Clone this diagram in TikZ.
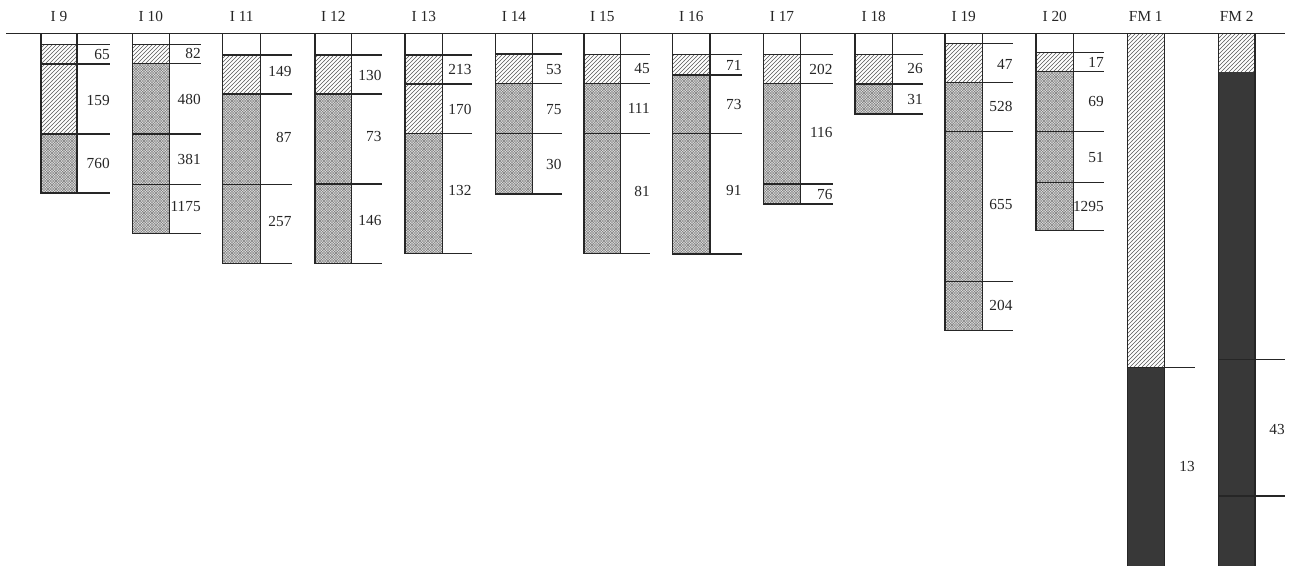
\documentclass[tikz,border=0pt]{standalone}
\usepackage{fontspec}
\setmainfont{Liberation Serif}
\usetikzlibrary{patterns}
\pgfdeclarepatternformonly{finecross}{\pgfqpoint{-0.5pt}{-0.5pt}}{\pgfqpoint{2.5pt}{2.5pt}}{\pgfqpoint{2pt}{2pt}}{%
  \pgfsetlinewidth{0.3pt}%
  \pgfpathmoveto{\pgfqpoint{-0.1pt}{-0.1pt}}\pgfpathlineto{\pgfqpoint{2.1pt}{2.1pt}}%
  \pgfpathmoveto{\pgfqpoint{-0.1pt}{2.1pt}}\pgfpathlineto{\pgfqpoint{2.1pt}{-0.1pt}}%
  \pgfusepath{stroke}}
\tikzset{
  rule/.style={line width=1.1pt, black!85},
  hatchfill/.style={pattern=north east lines, pattern color=black!65},
  crossfill/.style={fill=black!10, postaction={pattern=finecross, pattern color=black!50}},
  darkfill/.style={fill=black!78},
  num/.style={anchor=east, inner sep=0pt, font=\fontsize{11.5}{13}\selectfont, text=black!85},
  ttl/.style={inner sep=0pt, font=\fontsize{11.5}{13}\selectfont, text=black!85}
}
\newcommand\hseg[4]{\fill[hatchfill] (#1,#3) rectangle (#2,#4);}
\newcommand\cseg[4]{\fill[crossfill] (#1,#3) rectangle (#2,#4);}
\newcommand\tk[3]{\draw[rule] (#1,#3) -- (#2,#3);}
% frame: L D T bottom
\newcommand\frm[4]{\draw[rule] (#1,33.5) -- (#1,#4) -- (#3,#4); \draw[rule] (#2,33.5) -- (#2,#4);}
\begin{document}
\begin{tikzpicture}[x=0.75pt,y=-0.75pt]
\useasboundingbox (0,0) rectangle (1299,565);
\fill[white] (0,0) rectangle (1299,565);

% ---------- I 9
\hseg{41}{77}{44.3}{64}\hseg{41}{77}{64}{134}\cseg{41}{77}{134}{193}
\frm{41}{77}{110}{193}
\tk{41}{110}{44.3}\tk{41}{110}{64}\tk{41}{110}{134}
\node[ttl] (t9) at (59,16.7) {I 9};
\node[num] (a9) at (110,54) {65};
\node[num] (b9) at (110,100) {159};
\node[num] (c9) at (110,163) {760};

% ---------- I 10
\hseg{132.3}{169.3}{44.3}{63.3}\cseg{132.3}{169.3}{63.3}{134}\cseg{132.3}{169.3}{134}{184.3}\cseg{132.3}{169.3}{184.3}{233.3}
\frm{132.3}{169.3}{201}{233.3}
\tk{132.3}{201}{44.3}\tk{132.3}{201}{63.3}\tk{132.3}{201}{134}\tk{132.3}{201}{184.3}
\node[ttl] (t10) at (150.8,16.7) {I 10};
\node[num] (a10) at (201,53.3) {82};
\node[num] (b10) at (201,99) {480};
\node[num] (c10) at (201,159) {381};
\node[num] (d10) at (201,207) {1175};

% ---------- I 11
\hseg{222.7}{260.7}{55}{94}\cseg{222.7}{260.7}{94}{184.3}\cseg{222.7}{260.7}{184.3}{263.3}
\frm{222.7}{260.7}{291.7}{263.3}
\tk{222.7}{291.7}{55}\tk{222.7}{291.7}{94}\tk{222.7}{291.7}{184.3}
\node[ttl] (t11) at (241.7,16.7) {I 11};
\node[num] (a11) at (291.7,71.7) {149};
\node[num] (b11) at (291.7,137) {87};
\node[num] (c11) at (291.7,221.7) {257};

% ---------- I 12
\hseg{315}{351.7}{55}{94}\cseg{315}{351.7}{94}{184}\cseg{315}{351.7}{184}{263.3}
\frm{315}{351.7}{381.7}{263.3}
\tk{315}{381.7}{55}\tk{315}{381.7}{94}\tk{315}{381.7}{184}
\node[ttl] (t12) at (333.3,16.7) {I 12};
\node[num] (a12) at (381.7,75) {130};
\node[num] (b12) at (381.7,136.7) {73};
\node[num] (c12) at (381.7,220) {146};

% ---------- I 13
\hseg{405}{442.7}{55}{84}\hseg{405}{442.7}{84}{133.3}\cseg{405}{442.7}{133.3}{253.3}
\frm{405}{442.7}{471.7}{253.3}
\tk{405}{471.7}{55}\tk{405}{471.7}{84}\tk{405}{471.7}{133.3}
\node[ttl] (t13) at (423.8,16.7) {I 13};
\node[num] (a13) at (471.7,69) {213};
\node[num] (b13) at (471.7,109.3) {170};
\node[num] (c13) at (471.7,190.7) {132};

% ---------- I 14
\hseg{495.7}{532.3}{54}{83.3}\cseg{495.7}{532.3}{83.3}{133.3}\cseg{495.7}{532.3}{133.3}{194}
\frm{495.7}{532.3}{561.7}{194}
\tk{495.7}{561.7}{54}\tk{495.7}{561.7}{83.3}\tk{495.7}{561.7}{133.3}
\node[ttl] (t14) at (514,16.7) {I 14};
\node[num] (a14) at (561.7,69) {53};
\node[num] (b14) at (561.7,109.3) {75};
\node[num] (c14) at (561.7,164) {30};

% ---------- I 15
\hseg{584}{620.7}{54.3}{83.3}\cseg{584}{620.7}{83.3}{133.3}\cseg{584}{620.7}{133.3}{253.3}
\frm{584}{620.7}{650}{253.3}
\tk{584}{650}{54.3}\tk{584}{650}{83.3}\tk{584}{650}{133.3}
\node[ttl] (t15) at (602.3,16.7) {I 15};
\node[num] (a15) at (650,68.3) {45};
\node[num] (b15) at (650,108.3) {111};
\node[num] (c15) at (650,191.7) {81};

% ---------- I 16
\hseg{672.7}{710}{54.3}{75}\cseg{672.7}{710}{75}{133.3}\cseg{672.7}{710}{133.3}{254}
\frm{672.7}{710}{741.7}{254}
\tk{672.7}{741.7}{54.3}\tk{672.7}{741.7}{75}\tk{672.7}{741.7}{133.3}
\node[ttl] (t16) at (691.3,16.7) {I 16};
\node[num] (a16) at (741.7,65) {71};
\node[num] (b16) at (741.7,104) {73};
\node[num] (c16) at (741.7,190) {91};

% ---------- I 17
\hseg{763.3}{800.7}{54.3}{83.3}\cseg{763.3}{800.7}{83.3}{184}\cseg{763.3}{800.7}{184}{204}
\frm{763.3}{800.7}{832.7}{204}
\tk{763.3}{832.7}{54.3}\tk{763.3}{832.7}{83.3}\tk{763.3}{832.7}{184}
\node[ttl] (t17) at (782,16.7) {I 17};
\node[num] (a17) at (832.7,69.3) {202};
\node[num] (b17) at (832.7,132.7) {116};
\node[num] (c17) at (832.7,194) {76};

% ---------- I 18
\hseg{855}{892.3}{54.3}{84}\cseg{855}{892.3}{84}{114}
\frm{855}{892.3}{923}{114}
\tk{855}{923}{54.3}\tk{855}{923}{84}
\node[ttl] (t18) at (873.7,16.7) {I 18};
\node[num] (a18) at (923,68.3) {26};
\node[num] (b18) at (923,99.3) {31};

% ---------- I 19
\hseg{945}{982.3}{43.3}{82.3}\cseg{945}{982.3}{82.3}{131.7}\cseg{945}{982.3}{131.7}{281.7}\cseg{945}{982.3}{281.7}{330.7}
\frm{945}{982.3}{1012.7}{330.7}
\tk{945}{1012.7}{43.3}\tk{945}{1012.7}{82.3}\tk{945}{1012.7}{131.7}\tk{945}{1012.7}{281.7}
\node[ttl] (t19) at (963.7,16.7) {I 19};
\node[num] (a19) at (1012.7,64) {47};
\node[num] (b19) at (1012.7,106) {528};
\node[num] (c19) at (1012.7,204) {655};
\node[num] (d19) at (1012.7,305) {204};

% ---------- I 20
\hseg{1036}{1073.3}{52.7}{71.7}\cseg{1036}{1073.3}{71.7}{131.7}\cseg{1036}{1073.3}{131.7}{182.3}\cseg{1036}{1073.3}{182.3}{230.7}
\frm{1036}{1073.3}{1104}{230.7}
\tk{1036}{1104}{52.7}\tk{1036}{1104}{71.7}\tk{1036}{1104}{131.7}\tk{1036}{1104}{182.3}
\node[ttl] (t20) at (1054.7,16.7) {I 20};
\node[num] (a20) at (1104,62.7) {17};
\node[num] (b20) at (1104,101.7) {69};
\node[num] (c20) at (1104,157.3) {51};
\node[num] (d20) at (1104,206.7) {1295};

% ---------- FM 1
\hseg{1127.3}{1164.3}{33.5}{367.7}
\fill[darkfill] (1127.3,367.7) rectangle (1164.3,566);
\draw[rule] (1127.3,33.5) -- (1127.3,566);
\draw[rule] (1164.3,33.5) -- (1164.3,566);
\tk{1127.3}{1195}{367.7}
\node[ttl] (tf1) at (1145.8,16.7) {FM 1};
\node[num] (af1) at (1195,466) {13};

% ---------- FM 2
\hseg{1218.3}{1255}{33.5}{71.7}
\fill[darkfill] (1218.3,71.7) rectangle (1255,566);
\draw[rule] (1218.3,33.5) -- (1218.3,566);
\draw[rule] (1255,33.5) -- (1255,566);
\tk{1218.3}{1285}{359.3}\tk{1218.3}{1285}{496}
\node[ttl] (tf2) at (1236.7,16.7) {FM 2};
\node[num] (af2) at (1285,429) {43};

% ---------- top line
\draw[rule] (6,33.5) -- (1285,33.5);
\end{tikzpicture}
\end{document}
